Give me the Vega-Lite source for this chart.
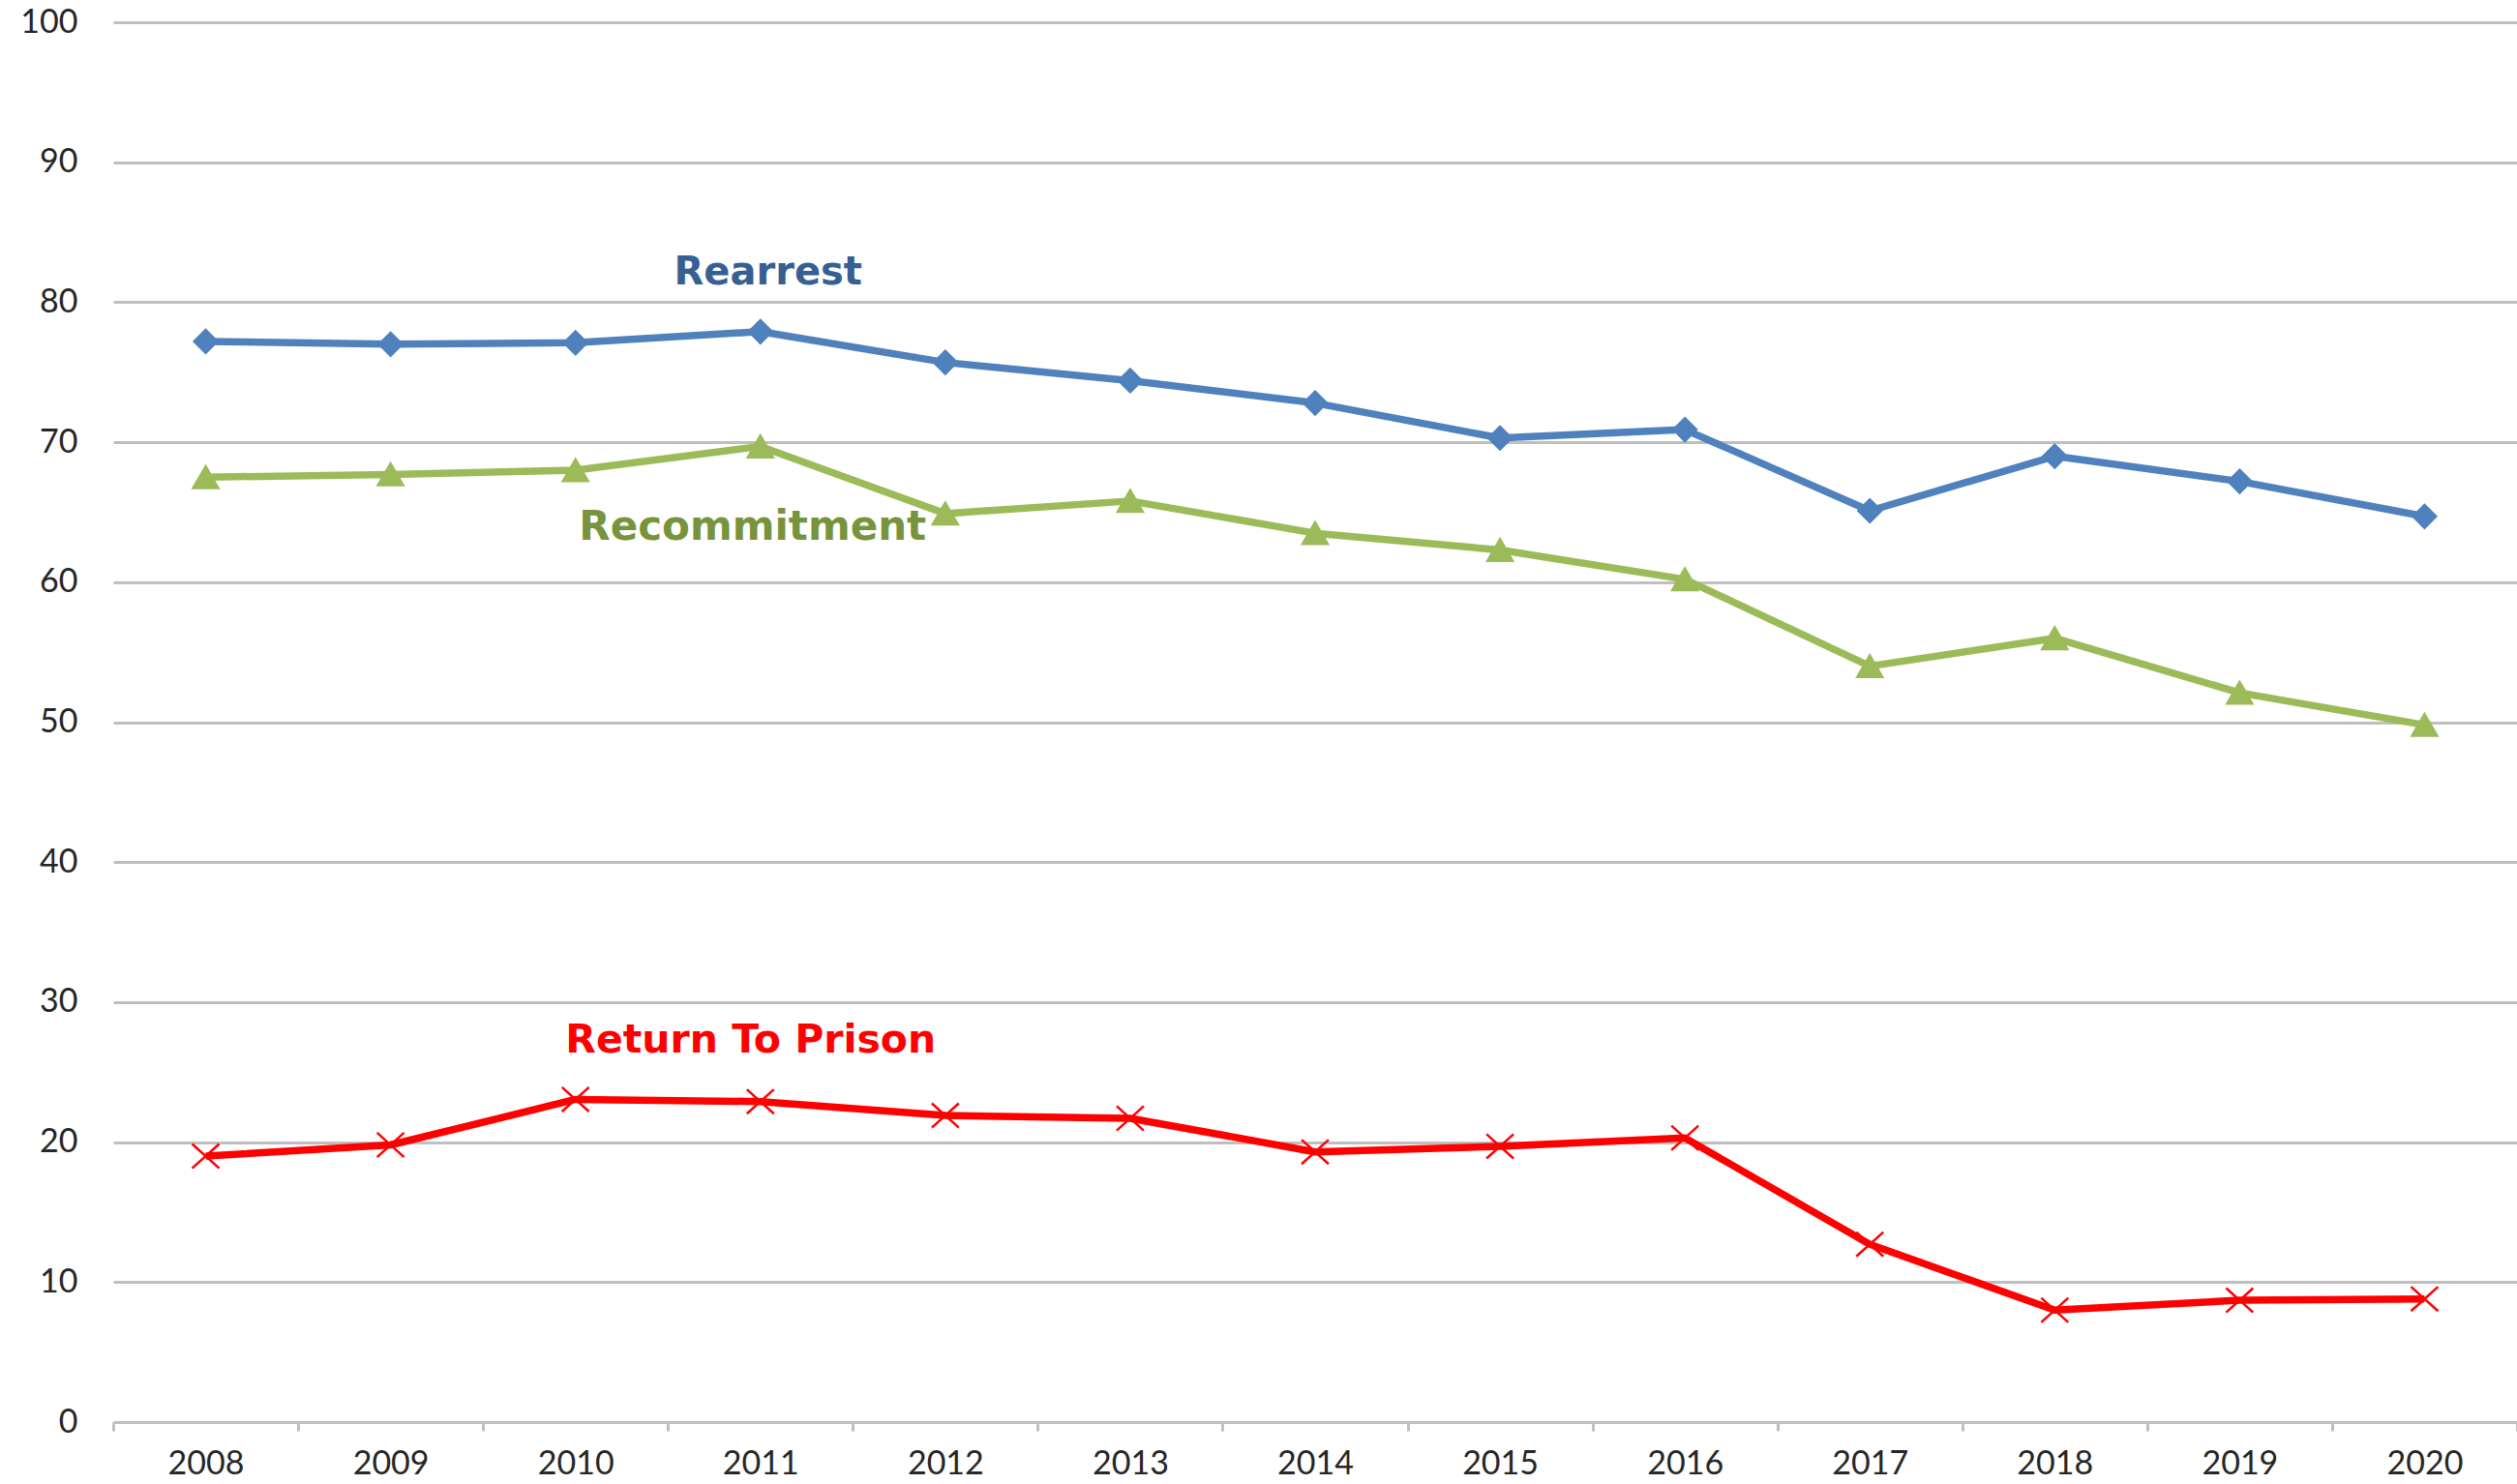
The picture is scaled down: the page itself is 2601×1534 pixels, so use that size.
{
  "$schema": "https://vega.github.io/schema/vega-lite/v6.json",
  "width": 2484,
  "height": 1447,
  "autosize": {"type": "none"},
  "padding": {"left": 117, "top": 23, "right": 0, "bottom": 64},
  "background": "white",
  "config": {"view": {"stroke": null}},
  "datasets": {
    "series": [
      {"year": "2008", "series": "Rearrest", "value": 77.2},
      {"year": "2009", "series": "Rearrest", "value": 77.0},
      {"year": "2010", "series": "Rearrest", "value": 77.1},
      {"year": "2011", "series": "Rearrest", "value": 77.9},
      {"year": "2012", "series": "Rearrest", "value": 75.7},
      {"year": "2013", "series": "Rearrest", "value": 74.4},
      {"year": "2014", "series": "Rearrest", "value": 72.8},
      {"year": "2015", "series": "Rearrest", "value": 70.3},
      {"year": "2016", "series": "Rearrest", "value": 70.9},
      {"year": "2017", "series": "Rearrest", "value": 65.1},
      {"year": "2018", "series": "Rearrest", "value": 69.0},
      {"year": "2019", "series": "Rearrest", "value": 67.2},
      {"year": "2020", "series": "Rearrest", "value": 64.7},
      {"year": "2008", "series": "Recommitment", "value": 67.5},
      {"year": "2009", "series": "Recommitment", "value": 67.7},
      {"year": "2010", "series": "Recommitment", "value": 68.0},
      {"year": "2011", "series": "Recommitment", "value": 69.7},
      {"year": "2012", "series": "Recommitment", "value": 64.9},
      {"year": "2013", "series": "Recommitment", "value": 65.8},
      {"year": "2014", "series": "Recommitment", "value": 63.5},
      {"year": "2015", "series": "Recommitment", "value": 62.3},
      {"year": "2016", "series": "Recommitment", "value": 60.2},
      {"year": "2017", "series": "Recommitment", "value": 54.0},
      {"year": "2018", "series": "Recommitment", "value": 56.0},
      {"year": "2019", "series": "Recommitment", "value": 52.1},
      {"year": "2020", "series": "Recommitment", "value": 49.8},
      {"year": "2008", "series": "Return To Prison", "value": 19.0},
      {"year": "2009", "series": "Return To Prison", "value": 19.8},
      {"year": "2010", "series": "Return To Prison", "value": 23.05},
      {"year": "2011", "series": "Return To Prison", "value": 22.9},
      {"year": "2012", "series": "Return To Prison", "value": 21.9},
      {"year": "2013", "series": "Return To Prison", "value": 21.7},
      {"year": "2014", "series": "Return To Prison", "value": 19.3},
      {"year": "2015", "series": "Return To Prison", "value": 19.7},
      {"year": "2016", "series": "Return To Prison", "value": 20.3},
      {"year": "2017", "series": "Return To Prison", "value": 12.7},
      {"year": "2018", "series": "Return To Prison", "value": 8.0},
      {"year": "2019", "series": "Return To Prison", "value": 8.7},
      {"year": "2020", "series": "Return To Prison", "value": 8.8}
    ],
    "labels": [
      {"year": "2011", "series": "Rearrest", "value": 82.1},
      {"year": "2011", "series": "Recommitment", "value": 63.9},
      {"year": "2011", "series": "Return To Prison", "value": 27.2}
    ]
  },
  "encoding": {
    "x": {
      "field": "year",
      "type": "ordinal",
      "scale": {"paddingInner": 0, "paddingOuter": 0},
      "axis": {
        "title": null,
        "tickBand": "extent",
        "labelAngle": 0,
        "labelFont": "Lato",
        "labelFontSize": 34,
        "labelColor": "#262626",
        "labelPadding": 17,
        "tickSize": 9,
        "tickColor": "#BFBFBF",
        "tickWidth": 3,
        "domainColor": "#BFBFBF",
        "domainWidth": 3,
        "grid": false
      }
    },
    "y": {
      "field": "value",
      "type": "quantitative",
      "scale": {"domain": [0, 100], "nice": false},
      "axis": {
        "title": null,
        "values": [0, 10, 20, 30, 40, 50, 60, 70, 80, 90, 100],
        "labelFont": "Lato",
        "labelFontSize": 34,
        "labelColor": "#262626",
        "ticks": false,
        "tickSize": 0,
        "labelPadding": 37,
        "domain": false,
        "grid": true,
        "gridColor": "#BFBFBF",
        "gridWidth": 3
      }
    }
  },
  "layer": [
    {
      "data": {"name": "series"},
      "mark": {"type": "line", "strokeJoin": "round"},
      "encoding": {
        "color": {
          "field": "series",
          "type": "nominal",
          "scale": {"domain": ["Rearrest", "Recommitment", "Return To Prison"], "range": ["#4F81BD", "#9BBB59", "#FF0000"]},
          "legend": null
        },
        "strokeWidth": {
          "field": "series",
          "type": "nominal",
          "scale": {"domain": ["Rearrest", "Recommitment", "Return To Prison"], "range": [7.5, 7.5, 9.5]},
          "legend": null
        }
      }
    },
    {
      "data": {"name": "series"},
      "mark": {"type": "point", "filled": true, "opacity": 1, "strokeWidth": 2.5},
      "encoding": {
        "color": {
          "field": "series",
          "type": "nominal",
          "scale": {"domain": ["Rearrest", "Recommitment", "Return To Prison"], "range": ["#4F81BD", "#9BBB59", "#FF0000"]},
          "legend": null
        },
        "stroke": {
          "field": "series",
          "type": "nominal",
          "scale": {"domain": ["Rearrest", "Recommitment", "Return To Prison"], "range": ["#4F81BD", "#9BBB59", "#FF0000"]},
          "legend": null
        },
        "shape": {
          "field": "series",
          "type": "nominal",
          "scale": {"domain": ["Rearrest", "Recommitment", "Return To Prison"], "range": ["diamond", "triangle-up", "M-1,-0.9L1,0.9M1,-0.9L-1,0.9"]},
          "legend": null
        },
        "size": {
          "field": "series",
          "type": "nominal",
          "scale": {"domain": ["Rearrest", "Recommitment", "Return To Prison"], "range": [560, 780, 780]},
          "legend": null
        }
      }
    },
    {
      "data": {"name": "labels"},
      "transform": [{"filter": "datum.series === 'Rearrest'"}],
      "mark": {"type": "text", "font": "DejaVu Sans", "fontWeight": "bold", "fontSize": 40, "color": "#376092", "dx": 8, "baseline": "middle"},
      "encoding": {"text": {"field": "series"}}
    },
    {
      "data": {"name": "labels"},
      "transform": [{"filter": "datum.series === 'Recommitment'"}],
      "mark": {"type": "text", "font": "DejaVu Sans", "fontWeight": "bold", "fontSize": 42, "color": "#77933C", "dx": -8, "baseline": "middle"},
      "encoding": {"text": {"field": "series"}}
    },
    {
      "data": {"name": "labels"},
      "transform": [{"filter": "datum.series === 'Return To Prison'"}],
      "mark": {"type": "text", "font": "DejaVu Sans", "fontWeight": "bold", "fontSize": 41, "color": "#FF0000", "dx": -10, "baseline": "middle"},
      "encoding": {"text": {"field": "series"}}
    }
  ]
}
